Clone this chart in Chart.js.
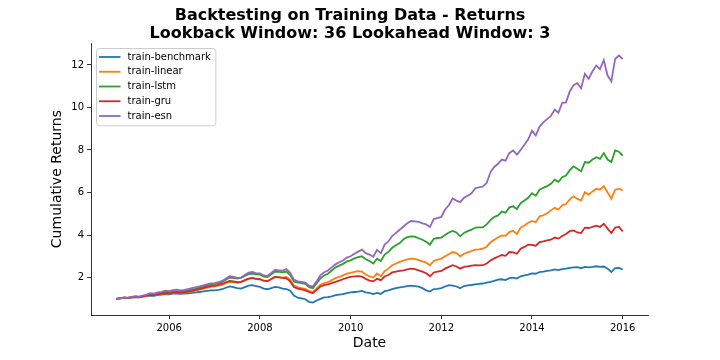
<!DOCTYPE html>
<html>
<head>
<meta charset="utf-8">
<title>Backtesting on Training Data - Returns</title>
<script src="https://cdn.jsdelivr.net/npm/chart.js@4.4.1/dist/chart.umd.min.js"></script>
<style>
  html, body { margin: 0; padding: 0; background: #fff; }
  #chart { display: block; }
</style>
</head>
<body>
<canvas id="chart" width="720" height="360"></canvas>
<script>
// monthly cumulative returns, month-end Oct 2004 .. Dec 2015
var firstMonth = [2004, 10];

var benchmark = [
	1.00, 1.02, 1.05,
	1.04, 1.06, 1.08, 1.07, 1.10, 1.13, 1.15, 1.14, 1.18, 1.20, 1.22, 1.21,
	1.24, 1.25, 1.23, 1.24, 1.26, 1.28, 1.30, 1.32, 1.35, 1.37, 1.40, 1.40,
	1.42, 1.45, 1.52, 1.58, 1.55, 1.50, 1.48, 1.55, 1.62, 1.64, 1.60, 1.56,
	1.48, 1.45, 1.50, 1.56, 1.54, 1.48, 1.46, 1.38, 1.15, 1.05, 1.02, 0.98,
	0.86, 0.82, 0.92, 1.00, 1.07, 1.08, 1.12, 1.17, 1.20, 1.22, 1.27, 1.30,
	1.32, 1.34, 1.37, 1.30, 1.28, 1.22, 1.28, 1.23, 1.36, 1.40, 1.46, 1.50,
	1.54, 1.56, 1.60, 1.62, 1.60, 1.57, 1.50, 1.40, 1.34, 1.46, 1.47, 1.50,
	1.58, 1.64, 1.62, 1.58, 1.50, 1.60, 1.63, 1.65, 1.68, 1.70, 1.72, 1.76,
	1.80, 1.84, 1.90, 1.92, 1.88, 1.97, 2.00, 1.95, 2.06, 2.10, 2.14, 2.20,
	2.18, 2.26, 2.28, 2.31, 2.34, 2.38, 2.35, 2.40, 2.42, 2.46, 2.48, 2.49,
	2.44, 2.50, 2.48, 2.50, 2.53, 2.50, 2.52, 2.42, 2.26, 2.44, 2.45, 2.38
];

var linear = [
	1.00, 1.02, 1.04,
	1.03, 1.06, 1.08, 1.07, 1.10, 1.14, 1.18, 1.16, 1.20, 1.23, 1.26, 1.25,
	1.28, 1.29, 1.27, 1.29, 1.32, 1.35, 1.39, 1.43, 1.48, 1.52, 1.56, 1.58,
	1.62, 1.66, 1.74, 1.80, 1.78, 1.76, 1.78, 1.86, 1.94, 1.97, 1.93, 1.92,
	1.85, 1.83, 1.93, 2.03, 2.02, 2.00, 2.03, 1.90, 1.62, 1.55, 1.50, 1.47,
	1.38, 1.32, 1.48, 1.66, 1.74, 1.78, 1.88, 1.97, 2.03, 2.10, 2.18, 2.22,
	2.27, 2.30, 2.28, 2.14, 2.05, 2.00, 2.19, 2.06, 2.30, 2.42, 2.58, 2.66,
	2.74, 2.80, 2.86, 2.89, 2.88, 2.82, 2.76, 2.70, 2.58, 2.78, 2.84, 2.89,
	3.00, 3.10, 3.20, 3.15, 3.00, 3.12, 3.18, 3.25, 3.31, 3.33, 3.36, 3.45,
	3.65, 3.78, 3.88, 3.98, 3.96, 4.14, 4.20, 4.05, 4.35, 4.45, 4.58, 4.66,
	4.60, 4.88, 4.93, 5.02, 5.16, 5.28, 5.20, 5.40, 5.46, 5.68, 5.82, 5.70,
	5.63, 6.02, 5.90, 6.05, 6.18, 6.13, 6.30, 6.00, 5.71, 6.13, 6.18, 6.10
];

var lstm = [
	1.00, 1.03, 1.05,
	1.04, 1.08, 1.10, 1.09, 1.13, 1.17, 1.22, 1.20, 1.25, 1.28, 1.32, 1.30,
	1.34, 1.36, 1.34, 1.36, 1.40, 1.43, 1.47, 1.51, 1.56, 1.62, 1.68, 1.70,
	1.74, 1.79, 1.90, 2.00, 1.98, 1.95, 1.98, 2.08, 2.16, 2.19, 2.15, 2.14,
	2.04, 2.02, 2.15, 2.28, 2.27, 2.24, 2.28, 2.12, 1.82, 1.76, 1.74, 1.70,
	1.55, 1.50, 1.72, 1.96, 2.10, 2.18, 2.33, 2.48, 2.56, 2.64, 2.76, 2.81,
	2.90, 2.96, 3.00, 2.86, 2.78, 2.66, 2.89, 2.78, 3.08, 3.20, 3.40, 3.52,
	3.62, 3.80, 3.90, 3.94, 3.92, 3.85, 3.78, 3.68, 3.55, 3.82, 3.86, 3.88,
	4.00, 4.12, 4.19, 4.12, 3.94, 4.10, 4.18, 4.25, 4.35, 4.36, 4.36, 4.50,
	4.70, 4.85, 4.92, 5.10, 5.05, 5.30, 5.35, 5.22, 5.50, 5.62, 5.75, 5.97,
	5.85, 6.13, 6.22, 6.30, 6.41, 6.60, 6.50, 6.72, 6.80, 7.05, 7.23, 7.12,
	7.00, 7.43, 7.40, 7.55, 7.66, 7.58, 7.85, 7.55, 7.43, 7.98, 7.92, 7.74
];

var gru = [
	1.00, 1.02, 1.05,
	1.04, 1.07, 1.09, 1.08, 1.11, 1.15, 1.19, 1.17, 1.21, 1.24, 1.27, 1.26,
	1.29, 1.30, 1.28, 1.30, 1.34, 1.37, 1.42, 1.46, 1.51, 1.56, 1.60, 1.62,
	1.66, 1.71, 1.78, 1.84, 1.82, 1.78, 1.80, 1.88, 1.95, 1.98, 1.94, 1.92,
	1.85, 1.83, 1.93, 2.03, 2.01, 1.98, 1.96, 1.82, 1.55, 1.48, 1.44, 1.40,
	1.32, 1.26, 1.42, 1.58, 1.64, 1.68, 1.74, 1.80, 1.86, 1.92, 1.98, 2.03,
	2.06, 2.07, 2.04, 1.94, 1.86, 1.82, 1.94, 1.88, 2.05, 2.12, 2.24, 2.28,
	2.31, 2.34, 2.38, 2.42, 2.40, 2.34, 2.28, 2.20, 2.06, 2.24, 2.28, 2.31,
	2.42, 2.50, 2.58, 2.52, 2.42, 2.50, 2.53, 2.56, 2.58, 2.57, 2.58, 2.66,
	2.80, 2.90, 2.98, 3.06, 3.02, 3.20, 3.18, 3.12, 3.36, 3.44, 3.55, 3.54,
	3.50, 3.67, 3.70, 3.75, 3.78, 3.88, 3.83, 3.95, 4.05, 4.18, 4.22, 4.12,
	4.09, 4.35, 4.33, 4.38, 4.44, 4.38, 4.53, 4.30, 4.09, 4.35, 4.38, 4.17
];

var esn = [
	1.00, 1.03, 1.06,
	1.05, 1.09, 1.12, 1.10, 1.15, 1.20, 1.26, 1.24, 1.30, 1.33, 1.38, 1.36,
	1.41, 1.43, 1.40, 1.42, 1.46, 1.50, 1.54, 1.58, 1.63, 1.68, 1.73, 1.74,
	1.78, 1.84, 1.95, 2.06, 2.03, 1.98, 2.00, 2.12, 2.23, 2.26, 2.21, 2.20,
	2.10, 2.08, 2.22, 2.36, 2.34, 2.32, 2.40, 2.22, 1.90, 1.82, 1.80, 1.76,
	1.62, 1.58, 1.82, 2.10, 2.25, 2.33, 2.48, 2.62, 2.72, 2.80, 2.94, 3.00,
	3.12, 3.22, 3.31, 3.15, 3.08, 2.98, 3.30, 3.14, 3.55, 3.70, 3.95, 4.10,
	4.25, 4.40, 4.55, 4.66, 4.64, 4.62, 4.55, 4.50, 4.38, 4.75, 4.80, 4.85,
	5.20, 5.40, 5.72, 5.62, 5.55, 5.75, 5.85, 5.96, 6.20, 6.24, 6.28, 6.45,
	6.95, 7.20, 7.35, 7.55, 7.50, 7.85, 7.98, 7.78, 8.00, 8.25, 8.50, 8.90,
	8.68, 9.10, 9.30, 9.45, 9.60, 9.90, 9.75, 10.22, 10.24, 10.75, 11.05, 11.14,
	10.90, 11.58, 11.35, 11.70, 11.97, 11.80, 12.23, 11.50, 11.23, 12.28, 12.44, 12.28
];

var seriesNames = ['train-benchmark', 'train-linear', 'train-lstm', 'train-gru', 'train-esn'];
var seriesColors = ['#1f77b4', '#ff7f0e', '#2ca02c', '#d62728', '#9467bd'];
var xTicks = [2006, 2008, 2010, 2012, 2014, 2016];
var yTicks = [2, 4, 6, 8, 10, 12];

// month-end dates as "YYYY-MM"
var months = [];
for (var k = 0; k < benchmark.length; k++) {
	var m = firstMonth[1] - 1 + k;
	var yy = firstMonth[0] + Math.floor(m / 12);
	var mm = (m % 12) + 1;
	months.push(yy + '-' + (mm < 10 ? '0' + mm : mm));
}

function monthToYear(s) {
	var p = s.split('-');
	return Number(p[0]) + Number(p[1]) / 12;
}

function points(values) {
	return values.map(function(v, i) {
		return { x: monthToYear(months[i]), y: v };
	});
}

var allSeries = [benchmark, linear, lstm, gru, esn];

// matplotlib-style 5% margins
var xFirst = monthToYear(months[0]), xLast = monthToYear(months[months.length - 1]);
var yMin = Infinity, yMax = -Infinity;
allSeries.forEach(function(s) {
	s.forEach(function(v) { yMin = Math.min(yMin, v); yMax = Math.max(yMax, v); });
});
var xPad = (xLast - xFirst) * 0.05, yPad = (yMax - yMin) * 0.05;

function roundRect(ctx, x, y, w, h, r) {
	ctx.beginPath();
	ctx.moveTo(x + r, y);
	ctx.arcTo(x + w, y, x + w, y + h, r);
	ctx.arcTo(x + w, y + h, x, y + h, r);
	ctx.arcTo(x, y + h, x, y, r);
	ctx.arcTo(x, y, x + w, y, r);
	ctx.closePath();
}

// legend box in the upper left of the axes
var legendBox = {
	id: 'legendBox',
	afterDatasetsDraw: function(chart) {
		var ctx = chart.ctx, area = chart.chartArea, sets = chart.data.datasets;
		ctx.save();
		ctx.font = '10px "DejaVu Sans"';
		var textW = 0;
		sets.forEach(function(d) { textW = Math.max(textW, ctx.measureText(d.label).width); });
		var x0 = Math.round(area.left + 5) + 0.5, y0 = Math.round(area.top + 5) + 0.5;
		var rowH = 14.75;
		var w = 36 + textW, h = sets.length * rowH + 3.5;
		roundRect(ctx, x0, y0, w, h, 3);
		ctx.fillStyle = 'rgba(255,255,255,0.8)';
		ctx.fill();
		ctx.strokeStyle = '#cccccc';
		ctx.lineWidth = 1;
		ctx.stroke();
		sets.forEach(function(d, k) {
			var y = y0 + 8.5 + k * rowH;
			ctx.beginPath();
			ctx.moveTo(x0 + 2.5, y);
			ctx.lineTo(x0 + 24, y);
			ctx.strokeStyle = d.borderColor;
			ctx.lineWidth = 1.8;
			ctx.stroke();
			ctx.fillStyle = '#000';
			ctx.textBaseline = 'middle';
			ctx.textAlign = 'left';
			ctx.fillText(d.label, x0 + 31, y);
		});
		ctx.restore();
	}
};

Chart.defaults.font.family = '"DejaVu Sans", sans-serif';
Chart.defaults.color = '#000';

var chart = new Chart(document.getElementById('chart'), {
	type: 'line',
	data: {
		datasets: allSeries.map(function(s, i) {
			return {
				label: seriesNames[i],
				data: points(s),
				borderColor: seriesColors[i],
				backgroundColor: seriesColors[i],
				borderWidth: 1.8,
				pointRadius: 0,
				tension: 0,
				fill: false,
				// later series on top, like matplotlib
				order: allSeries.length - 1 - i
			};
		})
	},
	options: {
		responsive: false,
		animation: false,
		devicePixelRatio: 1,
		layout: { padding: { left: 0, right: 20, top: 0, bottom: 0 } },
		plugins: {
			legend: { display: false },
			tooltip: { enabled: false },
			title: {
				display: true,
				text: ['Backtesting on Training Data - Returns', 'Lookback Window: 36 Lookahead Window: 3'],
				font: { size: 16, weight: 'bold', lineHeight: 1.1 },
				color: '#000',
				padding: { top: 7, bottom: 1 }
			}
		},
		scales: {
			x: {
				type: 'linear',
				min: xFirst - xPad,
				max: xLast + xPad,
				afterBuildTicks: function(scale) {
					scale.ticks = xTicks.map(function(v) { return { value: v }; });
				},
				afterFit: function(scale) { scale.height = 45; },
				ticks: {
					font: { size: 10 },
					padding: 3,
					maxRotation: 0,
					callback: function(v) { return String(v); }
				},
				grid: { drawOnChartArea: false, drawTicks: true, tickLength: 4, color: '#000', lineWidth: 0.8 },
				border: { display: true, color: '#000', width: 0.8 },
				title: {
					display: true,
					text: 'Date',
					font: { size: 14 },
					padding: { top: 0, bottom: 8 }
				}
			},
			y: {
				type: 'linear',
				position: 'left',
				min: yMin - yPad,
				max: yMax + yPad,
				afterBuildTicks: function(scale) {
					scale.ticks = yTicks.map(function(v) { return { value: v }; });
				},
				afterFit: function(scale) { scale.width = 91; },
				ticks: {
					font: { size: 10 },
					padding: 3,
					callback: function(v) { return String(v); }
				},
				grid: { drawOnChartArea: false, drawTicks: true, tickLength: 4, color: '#000', lineWidth: 0.8 },
				border: { display: true, color: '#000', width: 0.8 },
				title: {
					display: true,
					text: 'Cumulative Returns',
					font: { size: 14 },
					padding: { top: 49, bottom: 0 }
				}
			},
			// empty spacer on the right so the axes end where the reference does
			yRight: {
				axis: 'y',
				type: 'linear',
				position: 'right',
				display: true,
				ticks: { display: false },
				grid: { display: false },
				border: { display: false },
				afterFit: function(scale) { scale.width = 52; }
			}
		}
	},
	plugins: [legendBox]
});
</script>
</body>
</html>
